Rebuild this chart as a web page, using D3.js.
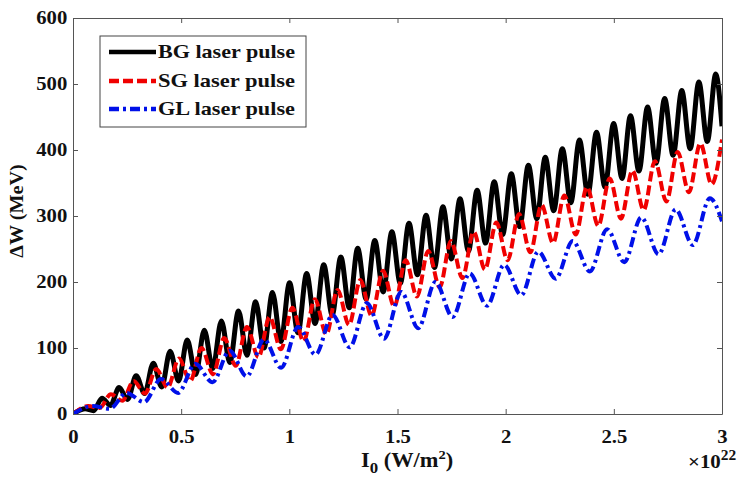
<!DOCTYPE html>
<html>
<head>
<meta charset="utf-8">
<script src="https://cdn.jsdelivr.net/npm/d3@7"></script>
<style>
  body { margin: 0; background: #fff; }
  svg { display: block; }
  text { font-family: "Liberation Serif", "Times New Roman", serif; font-weight: bold; fill: #111; }
</style>
</head>
<body>
<svg id="chart" width="739" height="479"></svg>
<script>
// Tick values
const xTicks = [0, 0.5, 1, 1.5, 2, 2.5, 3];
const yTicks = [0, 100, 200, 300, 400, 500, 600];

// Series names
const seriesNames = ["BG laser pulse", "SG laser pulse", "GL laser pulse"];

// Energy gain ΔW (MeV) vs intensity I0 (×10^22 W/m^2): local maxima and minima of each curve
const bgPeaks = [
  [0.056, 8], [0.134, 24], [0.213, 40], [0.292, 58], [0.371, 77], [0.449, 95], [0.528, 112],
  [0.607, 127], [0.686, 141], [0.765, 156], [0.844, 170], [0.922, 184], [1.001, 199], [1.080, 213],
  [1.159, 226], [1.238, 238], [1.316, 251], [1.395, 263], [1.474, 276], [1.553, 289], [1.632, 301],
  [1.710, 314], [1.789, 326], [1.868, 339], [1.947, 352], [2.026, 364], [2.105, 377], [2.183, 389],
  [2.262, 402], [2.341, 415], [2.420, 427], [2.499, 440], [2.577, 452], [2.656, 465], [2.735, 478],
  [2.814, 490], [2.893, 503], [2.971, 515]
];
const bgTroughs = [
  [0, 0], [0.095, 5], [0.173, 13], [0.252, 22], [0.331, 31], [0.410, 41], [0.488, 50], [0.567, 60],
  [0.646, 69], [0.725, 78], [0.804, 89], [0.883, 100], [0.961, 110], [1.040, 123], [1.119, 137],
  [1.198, 150], [1.277, 161], [1.355, 174], [1.434, 185], [1.513, 198], [1.592, 211], [1.671, 222],
  [1.749, 235], [1.828, 247], [1.907, 259], [1.986, 272], [2.065, 284], [2.144, 296], [2.222, 308],
  [2.301, 320], [2.380, 333], [2.459, 344], [2.538, 357], [2.616, 368], [2.695, 380], [2.774, 392],
  [2.853, 402], [2.932, 413], [3.0, 436]
];

const sgPeaks = [
  [0.070, 12], [0.175, 30], [0.280, 50], [0.385, 68], [0.490, 84], [0.594, 100], [0.699, 115],
  [0.804, 132], [0.909, 147], [1.014, 161], [1.118, 174], [1.223, 188], [1.328, 203], [1.433, 217],
  [1.538, 233], [1.642, 247], [1.747, 262], [1.852, 276], [1.957, 290], [2.062, 303], [2.166, 317],
  [2.271, 331], [2.376, 344], [2.481, 357], [2.586, 369], [2.690, 383], [2.795, 397], [2.900, 410],
  [3.0, 416]
];
const sgTroughs = [
  [0, 0], [0.123, 9], [0.228, 20], [0.333, 31], [0.437, 40], [0.542, 50], [0.647, 60], [0.752, 73],
  [0.857, 86], [0.961, 98], [1.066, 110], [1.171, 121], [1.276, 135], [1.380, 149], [1.485, 163],
  [1.590, 178], [1.695, 192], [1.800, 206], [1.904, 219], [2.009, 233], [2.114, 245], [2.219, 259],
  [2.324, 272], [2.428, 285], [2.533, 296], [2.638, 309], [2.743, 322], [2.847, 336], [2.952, 348]
];

const glPeaks = [
  [0.090, 12], [0.248, 32], [0.407, 53], [0.565, 76], [0.724, 96], [0.883, 113], [1.041, 132],
  [1.200, 150], [1.358, 168], [1.517, 185], [1.675, 200], [1.834, 213], [1.993, 226], [2.151, 246],
  [2.310, 262], [2.469, 280], [2.627, 298], [2.786, 310], [2.944, 327]
];
const glTroughs = [
  [0, 0], [0.169, 8], [0.328, 18], [0.486, 32], [0.645, 48], [0.803, 57], [0.962, 70], [1.121, 90],
  [1.279, 101], [1.438, 114], [1.596, 130], [1.755, 147], [1.914, 164], [2.072, 180], [2.231, 205],
  [2.389, 216], [2.548, 230], [2.707, 242], [2.865, 256], [3.0, 292]
];

const margin = { left: 73, right: 17, top: 18, bottom: 65 };
const width = 739, height = 479;
const svg = d3.select("#chart");
const innerW = width - margin.left - margin.right;
const innerH = height - margin.top - margin.bottom;

const x = d3.scaleLinear().domain([0, 3]).range([margin.left, margin.left + innerW]);
const y = d3.scaleLinear().domain([0, 600]).range([margin.top + innerH, margin.top]);

svg.append("rect").attr("width", width).attr("height", height).attr("fill", "#fff");

// Merge maxima and minima into one ordered path
function trace(peaks, troughs) {
  return peaks.concat(troughs).sort((a, b) => a[0] - b[0]);
}

const line = d3.line()
  .x(d => x(d[0]))
  .y(d => y(d[1]))
  .curve(d3.curveMonotoneX);

const series = [
  { name: seriesNames[0], data: trace(bgPeaks, bgTroughs), color: "#000", width: 5, dash: null },
  { name: seriesNames[1], data: trace(sgPeaks, sgTroughs), color: "#f00000", width: 4, dash: "10,4" },
  { name: seriesNames[2], data: trace(glPeaks, glTroughs), color: "#0010e8", width: 4, dash: "10,4,3,4" }
];

const plot = svg.append("g");
plot.append("clipPath").attr("id", "clip")
  .append("rect").attr("x", margin.left).attr("y", margin.top).attr("width", innerW).attr("height", innerH);

const lines = plot.append("g").attr("clip-path", "url(#clip)");
series.forEach(s => {
  lines.append("path")
    .datum(s.data)
    .attr("fill", "none")
    .attr("stroke", s.color)
    .attr("stroke-width", s.width)
    .attr("stroke-linejoin", "round")
    .attr("stroke-dasharray", s.dash)
    .attr("d", line);
});

// Frame with inward ticks on all sides
const tick = 5;
const xAxis = svg.append("g")
  .attr("transform", `translate(0,${margin.top + innerH})`)
  .call(d3.axisBottom(x).tickValues(xTicks).tickFormat(d => d).tickSizeInner(-tick).tickSizeOuter(0).tickPadding(16));
const yAxis = svg.append("g")
  .attr("transform", `translate(${margin.left},0)`)
  .call(d3.axisLeft(y).tickValues(yTicks).tickSizeInner(-tick).tickSizeOuter(0).tickPadding(5));
svg.append("g")
  .attr("transform", `translate(0,${margin.top})`)
  .call(d3.axisTop(x).tickValues(xTicks).tickFormat("").tickSizeInner(-tick).tickSizeOuter(0));
svg.append("g")
  .attr("transform", `translate(${margin.left + innerW},0)`)
  .call(d3.axisRight(y).tickValues(yTicks).tickFormat("").tickSizeInner(-tick).tickSizeOuter(0));

svg.selectAll(".domain").attr("stroke", "#555");
svg.selectAll(".tick line").attr("stroke", "#555");
[xAxis, yAxis].forEach(a => a.selectAll("text")
  .attr("fill", "#111")
  .style("font-family", '"Liberation Serif", serif')
  .style("font-weight", "bold")
  .style("font-size", "18px"));
xAxis.selectAll("text").attr("transform", "scale(1.15,1)");
yAxis.selectAll("text").attr("transform", "scale(1.15,1)");

// Axis titles
svg.append("text")
  .attr("transform", "translate(23,211) rotate(-90) scale(1.12,1)")
  .attr("text-anchor", "middle")
  .style("font-size", "18px")
  .text("ΔW (MeV)");

const xl = svg.append("text")
  .attr("transform", "translate(361,467) scale(1.12,1)")
  .style("font-size", "20px");
xl.append("tspan").text("I");
xl.append("tspan").attr("dy", 6).style("font-size", "15px").text("0");
xl.append("tspan").attr("dy", -6).text(" (W/m");
xl.append("tspan").attr("dy", -8).style("font-size", "13px").text("2");
xl.append("tspan").attr("dy", 8).text(")");

const ex = svg.append("text")
  .attr("transform", "translate(688,468) scale(1.1,1)")
  .style("font-size", "19px");
ex.append("tspan").text("×10");
ex.append("tspan").attr("dy", -8).style("font-size", "14px").text("22");

// Legend
const lg = svg.append("g");
lg.append("rect")
  .attr("x", 100).attr("y", 36).attr("width", 206).attr("height", 91)
  .attr("fill", "#fff").attr("stroke", "#444").attr("stroke-width", 1);
const rowsY = [52, 81, 109];
series.forEach((s, i) => {
  lg.append("line")
    .attr("x1", 109).attr("x2", 156)
    .attr("y1", rowsY[i]).attr("y2", rowsY[i])
    .attr("stroke", s.color).attr("stroke-width", 4.5)
    .attr("stroke-dasharray", s.dash);
  lg.append("text")
    .attr("x", 158).attr("y", rowsY[i] + 6)
    .attr("textLength", 137).attr("lengthAdjust", "spacingAndGlyphs")
    .style("font-size", "19px")
    .text(s.name);
});
</script>
</body>
</html>
